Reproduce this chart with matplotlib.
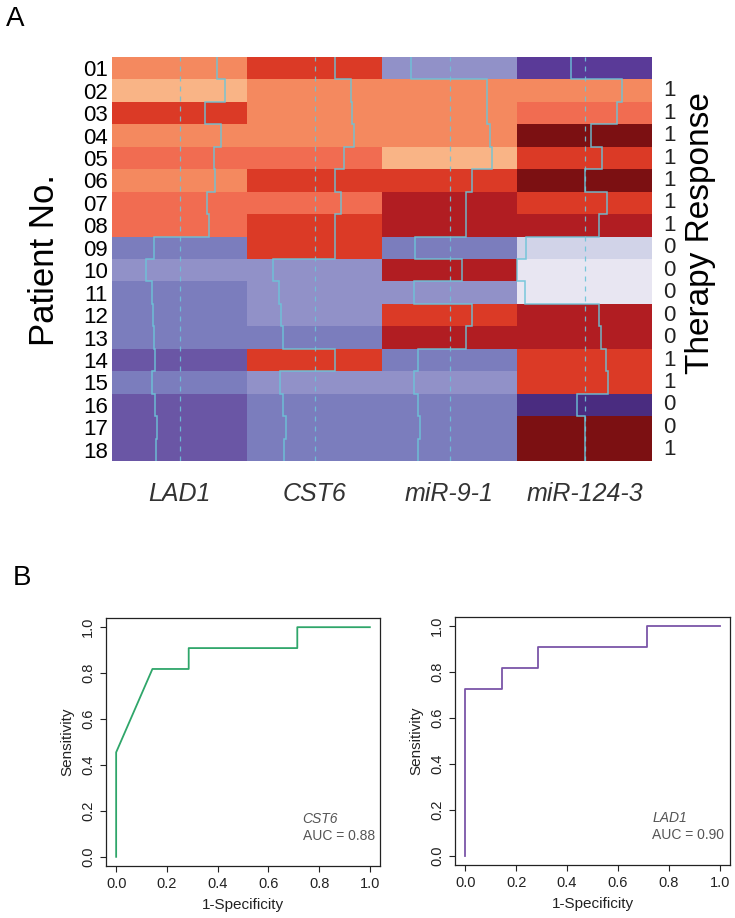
import numpy as np
import matplotlib
matplotlib.use("Agg")
import matplotlib.pyplot as plt
from matplotlib.colors import ListedColormap, BoundaryNorm

plt.rcParams["font.family"] = ["Liberation Sans", "DejaVu Sans"]

# --- panel A data ---
genes = ["LAD1", "CST6", "miR-9-1", "miR-124-3"]
patients = ["%02d" % i for i in range(1, 19)]
response = ["", "1", "1", "1", "1", "1", "1", "1", "0", "0", "0", "0", "0", "1", "1", "0", "0", "1"]

# colour level per cell (0 = deep purple ... 12 = darkest red)
palette = ["#4A2C80", "#5A3A98", "#6A56A5", "#7B7DBD", "#9191C8", "#D1D3E8", "#E8E6F2",
           "#F9B486", "#F4895F", "#F16C51", "#DB3A26", "#B11D22", "#7C1012"]
levels = np.array([
    [8, 10, 4, 1],
    [7, 8, 8, 8],
    [10, 8, 8, 9],
    [8, 8, 8, 12],
    [9, 9, 7, 10],
    [8, 10, 10, 12],
    [9, 9, 11, 10],
    [9, 10, 11, 11],
    [3, 10, 3, 5],
    [4, 4, 11, 6],
    [3, 4, 4, 6],
    [3, 4, 10, 11],
    [3, 3, 11, 11],
    [2, 10, 3, 10],
    [3, 4, 4, 10],
    [2, 3, 3, 0],
    [2, 3, 3, 12],
    [2, 3, 3, 12],
])

# trace position inside each column (0 = left edge, 1 = right edge)
trace = np.array([
    [0.780, 0.649, 0.215, 0.398],
    [0.835, 0.768, 0.778, 0.778],
    [0.686, 0.775, 0.780, 0.743],
    [0.810, 0.793, 0.798, 0.551],
    [0.755, 0.719, 0.812, 0.630],
    [0.760, 0.654, 0.669, 0.506],
    [0.706, 0.694, 0.620, 0.669],
    [0.720, 0.654, 0.620, 0.605],
    [0.310, 0.654, 0.244, 0.067],
    [0.250, 0.195, 0.590, 0.000],
    [0.296, 0.237, 0.240, 0.057],
    [0.300, 0.254, 0.669, 0.605],
    [0.310, 0.264, 0.625, 0.620],
    [0.320, 0.649, 0.269, 0.659],
    [0.296, 0.244, 0.240, 0.674],
    [0.320, 0.269, 0.264, 0.447],
    [0.336, 0.289, 0.279, 0.506],
    [0.326, 0.274, 0.269, 0.506],
])

# --- panel B data ---
cst6_fpr = [0, 0, 0.143, 0.286, 0.286, 0.714, 0.714, 1.0]
cst6_tpr = [0, 0.455, 0.818, 0.818, 0.909, 0.909, 1.0, 1.0]
lad1_fpr = [0, 0, 0.143, 0.143, 0.286, 0.286, 0.714, 0.714, 1.0]
lad1_tpr = [0, 0.727, 0.727, 0.818, 0.818, 0.909, 0.909, 1.0, 1.0]

W, H = 735, 918
fig = plt.figure(figsize=(W / 100, H / 100), dpi=100)


def fax(l, t, r, b):
    return fig.add_axes([l / W, 1 - b / H, (r - l) / W, (b - t) / H])


# ---------------- panel A ----------------
ax = fax(112, 57, 652, 461)
cmap = ListedColormap(palette)
norm = BoundaryNorm(np.arange(len(palette) + 1) - 0.5, cmap.N)
ax.pcolormesh(np.arange(5), np.arange(19), levels, cmap=cmap, norm=norm)
ax.set_xlim(0, 4)
ax.set_ylim(18, 0)

tcol = "#6CC4D8"
edges = np.arange(19)
for j in range(4):
    ax.axvline(j + 0.5, color=tcol, lw=0.9, ls=(0, (4, 4)), alpha=0.9)
    ax.stairs(j + trace[:, j], edges, orientation="horizontal", baseline=None,
              color=tcol, lw=1.1, alpha=0.9)

ax.set_yticks(np.arange(18) + 0.5)
ax.set_yticklabels(patients, fontsize=16)
ax.set_xticks(np.arange(4) + 0.5)
ax.set_xticklabels(genes, fontsize=18, style="italic", color="#333333")
ax.tick_params(length=0, pad=3, axis="y")
ax.tick_params(length=0, pad=15, axis="x")
for s in ax.spines.values():
    s.set_visible(False)

for i, r in enumerate(response):
    ax.text(4.08, i + 0.5, r, fontsize=16, color="#222222", ha="left", va="center")

fig.text(44 / W, 1 - 260 / H, "Patient No.", rotation=90, fontsize=25,
         ha="center", va="center")
fig.text(701 / W, 1 - 233 / H, "Therapy Response", rotation=90, fontsize=24,
         ha="center", va="center")
fig.text(15 / W, 1 - 19 / H, "A", fontsize=20, ha="center", va="center")
fig.text(22 / W, 1 - 578 / H, "B", fontsize=20, ha="center", va="center")


# ---------------- panel B ----------------
def roc(a, fpr, tpr, color, gene, auc):
    a.plot(fpr, tpr, color=color, lw=1.3)
    a.set_xlim(-0.04, 1.04)
    a.set_ylim(-0.04, 1.04)
    ticks = np.linspace(0, 1, 6)
    a.set_xticks(ticks)
    a.set_yticks(ticks)
    a.set_xticklabels(["%.1f" % t for t in ticks])
    a.set_yticklabels(["%.1f" % t for t in ticks], rotation=90, va="center")
    a.tick_params(labelsize=10.5, length=4, width=0.8, colors="#222222", pad=4)
    a.set_xlabel("1-Specificity", fontsize=11, color="#222222", labelpad=5)
    a.set_ylabel("Sensitivity", fontsize=11, color="#222222", labelpad=5)
    for s in a.spines.values():
        s.set_linewidth(0.9)
        s.set_color("#222222")
    a.text(0.735, 0.165, gene, style="italic", fontsize=10, color="#555555",
           ha="left", va="center")
    a.text(0.735, 0.09, "AUC = %.2f" % auc, fontsize=10, color="#555555",
           ha="left", va="center")


roc(fax(106, 618, 380, 866), cst6_fpr, cst6_tpr, "#2FA66A", "CST6", 0.88)
roc(fax(455, 617, 730, 865), lad1_fpr, lad1_tpr, "#7B55A8", "LAD1", 0.90)

fig.savefig("out.png", dpi=100)
